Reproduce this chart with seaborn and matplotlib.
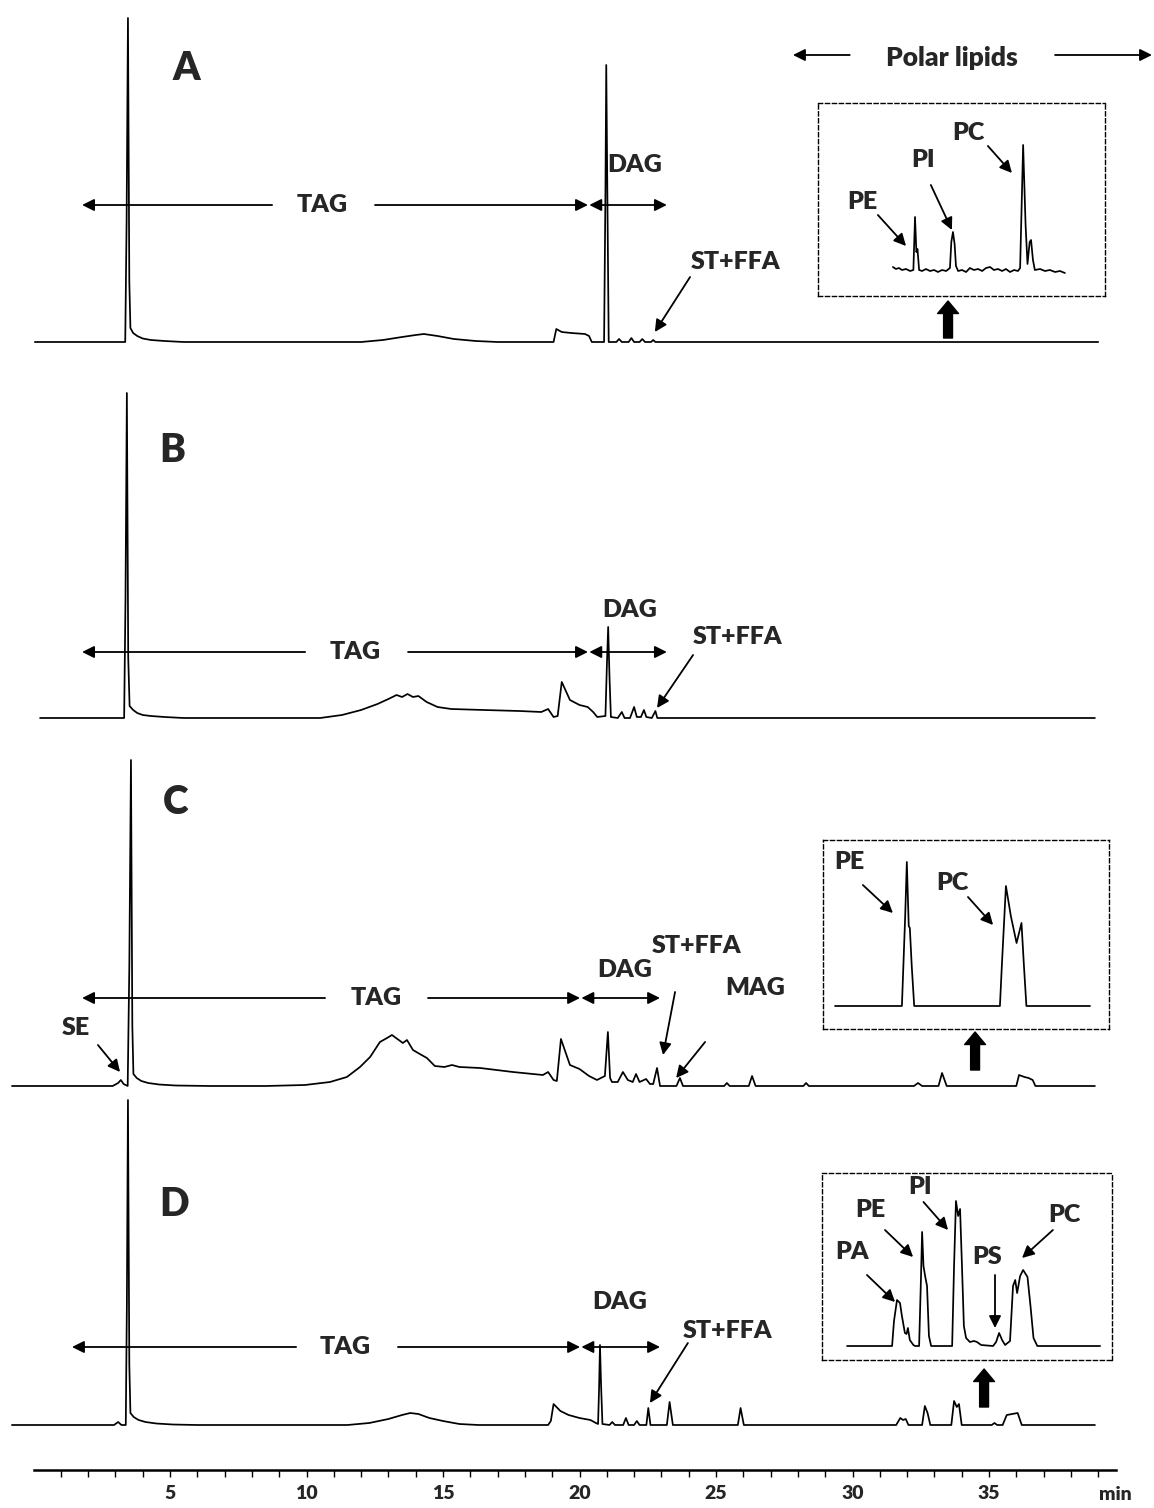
import numpy as np
import pandas as pd
import seaborn as sns
import matplotlib.pyplot as plt

# ── Chromatogram traces (retention time in min, signal in a.u.) ──────────────
a_time = [0.05, 3.36, 3.41, 3.46, 3.51, 3.55, 3.65, 3.8, 4.0, 4.3, 4.8, 5.5, 12.0, 12.8, 13.5, 14.0,
          14.3, 14.8, 15.4, 16.2, 17.0, 19.05, 19.15, 19.35, 19.7, 20.2, 20.35, 20.45, 20.9, 20.95,
          20.98, 21.02, 21.07, 21.35, 21.45, 21.55, 21.8, 21.9, 22.0, 22.2, 22.3, 22.4, 22.62, 22.7,
          22.78, 39.0]
a_signal = [0, 0, 120, 324, 60, 14, 9, 6, 3.5, 2, 1, 0, 0, 2, 5, 7,
            8, 6, 3, 1, 0, 0, 13, 10, 9, 8, 6, 0, 0, 150,
            277, 150, 0, 0, 3, 0, 0, 4, 0, 0, 3, 0, 0, 2,
            0, 0]

b_time = [0.24, 3.32, 3.37, 3.42, 3.47, 3.52, 3.65, 3.8, 4.0, 4.3, 4.8, 5.5, 10.5, 11.3, 12.0, 12.6,
          13.0, 13.3, 13.5, 13.7, 13.9, 14.1, 14.4, 14.8, 15.3, 16.5, 17.8, 18.6, 18.85, 19.05,
          19.2, 19.35, 19.65, 20.0, 20.3, 20.5, 20.65, 20.95, 21.0, 21.05, 21.1, 21.15, 21.4, 21.55,
          21.65, 21.85, 22.0, 22.1, 22.25, 22.36, 22.45, 22.65, 22.78, 22.85, 38.88]
b_signal = [0, 0, 120, 325, 60, 12, 8, 5, 3, 2, 1, 0, 0, 3, 8, 14,
            19, 23, 21, 24, 21, 22, 16, 11, 9, 8, 7, 6, 9, 1,
            2, 36, 18, 13, 11, 6, 1, 2, 50, 91, 40, 1, 0, 6,
            0, 0, 11, 1, 1, 8, 1, 0, 7, 0, 0]

c_time = [-0.79, 2.9, 3.1, 3.2, 3.3, 3.45, 3.51, 3.57, 3.62, 3.66, 3.78, 3.95, 4.2, 4.6, 5.2, 6.5,
          8.5, 9.94, 10.86, 11.48, 11.96, 12.33, 12.69, 12.95, 13.13, 13.33, 13.53, 13.68, 13.9,
          14.15, 14.41, 14.7, 15.05, 15.33, 15.6, 16.36, 17.56, 18.66, 18.85, 19.05, 19.17, 19.32,
          19.65, 20.0, 20.35, 20.64, 20.93, 21.04, 21.12, 21.19, 21.4, 21.59, 21.77, 21.95, 22.07,
          22.2, 22.44, 22.58, 22.7, 22.84, 22.95, 23.55, 23.68, 23.79, 25.3, 25.4, 25.5, 26.2,
          26.32, 26.45, 28.2, 28.3, 28.4, 32.25, 32.4, 32.55, 33.15, 33.28, 33.45, 36.0, 36.1,
          36.3, 36.45, 36.6, 36.7, 38.88]
c_signal = [0, 0, 3, 6, 2, 0, 120, 326, 60, 12, 8, 5, 3, 1.5, 0.5, 0,
            0, 1, 4, 9, 19, 29, 44, 48, 51, 47, 43, 46, 36,
            32, 28, 20, 19, 21, 19, 18, 14, 11, 14, 6, 5, 47,
            21, 17, 10, 6, 10, 54, 8, 4, 4, 14, 6, 4, 12,
            4, 7, 2, 2, 18, 0, 0, 8, 0, 0, 3, 0, 0,
            10, 0, 0, 3, 0, 0, 3, 0, 0, 13, 0, 0, 11,
            9, 8, 6, 0, 0]

d_time = [-0.79, 2.95, 3.1, 3.22, 3.38, 3.42, 3.46, 3.51, 3.55, 3.67, 3.85, 4.1, 4.5, 5.1, 6.0, 11.5,
          12.3, 13.0, 13.5, 13.8, 14.1, 14.5, 15.0, 15.6, 16.3, 18.85, 18.95, 19.05, 19.3, 19.6,
          20.0, 20.4, 20.6, 20.68, 20.72, 20.75, 20.79, 20.84, 21.1, 21.2, 21.3, 21.6, 21.7, 21.8,
          22.0, 22.1, 22.2, 22.45, 22.52, 22.6, 23.2, 23.3, 23.42, 25.8, 25.9, 26.02, 31.6, 31.75,
          31.85, 31.95, 32.05, 32.55, 32.65, 32.75, 32.85, 33.62, 33.72, 33.82, 33.9, 34.0, 35.1,
          35.2, 35.3, 35.5, 35.65, 35.85, 36.05, 36.2, 38.88]
d_signal = [0, 0, 3, 0, 0, 120, 325, 60, 12, 8, 5, 3, 1.5, 0.5, 0, 0,
            2, 6, 10, 12, 11, 7, 4, 1, 0, 0, 4, 21, 14, 10,
            7, 5, 2, 1, 40, 80, 40, 1, 0, 3, 0, 0, 7, 0,
            0, 4, 0, 0, 17, 0, 0, 23, 0, 0, 17, 0, 0, 7,
            5, 6, 0, 0, 19, 12, 0, 0, 24, 18, 21, 0, 0,
            2, 0, 0, 10, 11, 12, 0, 0]

# ── Zoomed polar lipid region (insets) ────────────────────────────────────────
ia_time = [31.48, 31.59, 31.70, 31.81, 31.96, 32.11, 32.23, 32.29, 32.34, 32.38, 32.44, 32.55, 32.69,
           32.84, 32.99, 33.13, 33.28, 33.43, 33.57, 33.62, 33.68, 33.74, 33.79, 33.87, 34.01, 34.16,
           34.30, 34.45, 34.60, 34.75, 34.89, 35.04, 35.18, 35.33, 35.48, 35.62, 35.77, 35.92, 36.06,
           36.14, 36.25, 36.34, 36.41, 36.49, 36.54, 36.61, 36.68, 36.87, 37.05, 37.23, 37.42, 37.60,
           37.78]
ia_signal = [3, 1, 2, 0, 1, -1, 0, 53, 18, 21, 0, -1, 1,
             -1, 0, -2, 0, -1, 2, 28, 38, 26, 4, -1, 0, -2,
             2, 0, 1, -1, 2, 3, 0, 1, -1, 1, -2, 0, -1,
             2, 125, 45, 6, 28, 30, 10, 0, 1, -1, 0, -2, -1,
             -3]

ic_time = [29.36, 31.81, 31.93, 31.99, 32.06, 32.10, 32.17, 32.26, 35.40, 35.47, 35.62, 35.80, 36.01,
           36.19, 36.28, 36.37, 38.70]
ic_signal = [0, 0, 90, 144, 80, 78, 40, 0, 0, 40, 120, 90, 63, 83, 40, 0, 0]

id_time = [29.80, 31.45, 31.52, 31.63, 31.74, 31.81, 31.92, 31.98, 32.03, 32.10, 32.23, 32.29, 32.44,
           32.51, 32.55, 32.60, 32.66, 32.73, 32.80, 32.88, 33.65, 33.72, 33.79, 33.87, 33.94, 34.01,
           34.08, 34.16, 34.30, 34.45, 34.56, 34.71, 35.15, 35.26, 35.37, 35.48, 35.59, 35.77, 35.88,
           35.96, 36.03, 36.14, 36.25, 36.41, 36.52, 36.63, 36.77, 39.07]
id_signal = [0, 0, 25, 46, 43, 30, 13, 12, 18, 6, 1, 0, 0,
             70, 114, 80, 70, 60, 10, 0, 0, 80, 145, 130, 137, 80,
             20, 8, 4, 5, 4, 1, 0, 4, 13, 6, 1, 5, 60,
             66, 53, 70, 76, 69, 40, 8, 0, 0]

x_major = [5, 10, 15, 20, 25, 30, 35]
x_minor = list(range(1, 40))

# ── Layout helpers (figure is 1154 x 1508 px) ─────────────────────────────────
W, H = 1154, 1508
X0, PX_PER_MIN = 33.5, 27.3


def t_of(px):
    return (px - X0) / PX_PER_MIN


sns.set_style("white")
plt.rcParams["font.family"] = ["Lato", "DejaVu Sans"]
plt.rcParams["font.weight"] = "bold"

fig = plt.figure(figsize=(W / 100, H / 100), dpi=100)
LW = 1.25
ARROW = dict(arrowstyle="-|>", color="k", lw=1.3, mutation_scale=18, shrinkA=0, shrinkB=0)
BIG = dict(arrowstyle="simple,head_length=0.45,head_width=0.75,tail_width=0.32",
           color="k", mutation_scale=20, shrinkA=0, shrinkB=0)


def panel_axes(base_px):
    ax = fig.add_axes([0, 0, 1, 1])
    ax.set_xlim(t_of(0), t_of(W))
    ax.set_ylim(base_px - H, base_px)
    ax.axis("off")
    ax.patch.set_alpha(0)
    return ax


def inset_axes(left, top, right, bottom, base_px):
    ax = fig.add_axes([left / W, 1 - bottom / H, (right - left) / W, (bottom - top) / H])
    ax.set_xlim(t_of(left), t_of(right))
    ax.set_ylim(base_px - bottom, base_px - top)
    ax.set_xticks([])
    ax.set_yticks([])
    ax.patch.set_alpha(0)
    for sp in ax.spines.values():
        sp.set_linestyle((0, (3, 2)))
        sp.set_linewidth(1.0)
        sp.set_color("k")
    return ax


def trace(ax, t, s):
    df = pd.DataFrame({"time": t, "signal": s})
    sns.lineplot(data=df, x="time", y="signal", ax=ax, color="k", lw=LW,
                 estimator=None, sort=False, legend=False)
    ax.set_xlabel("")
    ax.set_ylabel("")


def label(ax, x, y, s, size=18):
    ax.text(x, y, s, ha="center", va="center", fontsize=size, fontweight="heavy")


def arrow(ax, tail, head, props=ARROW):
    ax.annotate("", xy=head, xytext=tail, arrowprops=props)


def ranges(ax, y, tag_l, gap_l, gap_r, tag_r, dag_r, tag_x, dag_xy):
    arrow(ax, (gap_l, y), (tag_l, y))
    arrow(ax, (gap_r, y), (tag_r, y))
    ax.annotate("", xy=(dag_r, y), xytext=(tag_r + 0.05, y),
                arrowprops=dict(ARROW, arrowstyle="<|-|>"))
    label(ax, tag_x, y, "TAG")
    label(ax, dag_xy[0], dag_xy[1], "DAG")


# ── Panel A ───────────────────────────────────────────────────────────────────
ax = panel_axes(342)
trace(ax, a_time, a_signal)
label(ax, 5.59, 274, "A", 28)
ranges(ax, 137, 1.78, 8.74, 12.51, 20.31, 23.2, 10.56, (22.03, 177))
label(ax, 25.7, 80, "ST+FFA")
arrow(ax, (24.05, 65), (22.76, 10))
label(ax, 33.65, 284, "Polar lipids", 19)
arrow(ax, (29.9, 287), (27.82, 287))
arrow(ax, (37.42, 287), (40.97, 287))
arrow(ax, (33.5, 4), (33.5, 41), BIG)

ia = inset_axes(818, 103, 1105, 296, 270)
trace(ia, ia_time, ia_signal)
label(ia, 34.23, 137, "PC")
arrow(ia, (34.96, 124), (35.84, 97))
label(ia, 32.58, 110, "PI")
arrow(ia, (32.87, 85), (33.64, 40))
label(ia, 30.35, 68, "PE")
arrow(ia, (30.93, 55), (31.96, 24))

# ── Panel B ───────────────────────────────────────────────────────────────────
ax = panel_axes(718)
trace(ax, b_time, b_signal)
label(ax, 5.07, 268, "B", 28)
ranges(ax, 66, 1.78, 9.95, 13.72, 20.31, 23.2, 11.78, (21.85, 108))
label(ax, 25.77, 81, "ST+FFA")
arrow(ax, (24.16, 63), (22.84, 10))

# ── Panel C ───────────────────────────────────────────────────────────────────
ax = panel_axes(1086)
trace(ax, c_time, c_signal)
label(ax, 5.22, 283, "C", 28)
ranges(ax, 88, 1.78, 10.68, 14.45, 20.02, 22.95, 12.55, (21.67, 116))
label(ax, 24.3, 140, "ST+FFA")
arrow(ax, (23.5, 94), (23.06, 31))
label(ax, 26.43, 98, "MAG")
arrow(ax, (24.6, 44), (23.54, 8))
label(ax, 1.56, 58, "SE")
arrow(ax, (2.36, 41), (3.17, 14))
arrow(ax, (34.49, 16), (34.49, 54), BIG)

ic = inset_axes(823, 840, 1109, 1029, 1006)
trace(ic, ic_time, ic_signal)
label(ic, 29.87, 144, "PE")
arrow(ic, (30.38, 121), (31.48, 93))
label(ic, 33.65, 123, "PC")
arrow(ic, (34.23, 109), (35.15, 81))

# ── Panel D ───────────────────────────────────────────────────────────────────
ax = panel_axes(1425)
trace(ax, d_time, d_signal)
label(ax, 5.15, 220, "D", 28)
ranges(ax, 78, 1.41, 9.62, 13.35, 20.02, 22.95, 11.41, (21.48, 123))
label(ax, 25.44, 94, "ST+FFA")
arrow(ax, (23.97, 82), (22.58, 22))
arrow(ax, (34.82, 18), (34.82, 56), BIG)

idd = inset_axes(822, 1173, 1112, 1360, 1346)
trace(idd, id_time, id_signal)
label(idd, 29.98, 94, "PA")
arrow(idd, (30.53, 71), (31.56, 44))
label(idd, 30.64, 136, "PE")
arrow(idd, (31.19, 116), (32.22, 89))
label(idd, 32.47, 159, "PI")
arrow(idd, (32.6, 144), (33.5, 116))
label(idd, 34.93, 89, "PS")
arrow(idd, (35.22, 71), (35.22, 18))
label(idd, 37.78, 131, "PC")
arrow(idd, (37.34, 116), (36.21, 88))

# ── Time axis ─────────────────────────────────────────────────────────────────
axb = fig.add_axes([X0 / W, 1 - 1470 / H, (1116 - X0) / W, 0.002])
axb.set_xlim(0, t_of(1116))
axb.set_ylim(0, 1)
axb.patch.set_alpha(0)
for side in ("left", "right", "top"):
    axb.spines[side].set_visible(False)
axb.spines["bottom"].set_linewidth(1.8)
axb.spines["bottom"].set_color("k")
axb.set_yticks([])
axb.set_xticks(x_major)
axb.set_xticks(x_minor, minor=True)
axb.set_xticklabels([str(v) for v in x_major], fontsize=14, fontweight="heavy")
axb.tick_params(axis="x", which="both", direction="out", length=5, width=1.0,
                color="k", bottom=True, pad=6)
fig.text(1115 / W, 1 - 1495 / H, "min", ha="center", va="center", fontsize=14, fontweight="heavy")

fig.savefig("out.png", dpi=100)
